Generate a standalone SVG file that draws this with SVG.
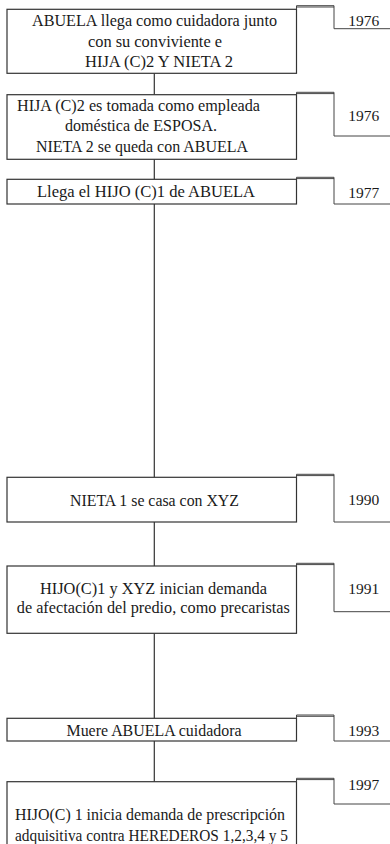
<svg xmlns="http://www.w3.org/2000/svg" width="390" height="844" viewBox="0 0 390 844">
<style>
.box{fill:#fff;stroke:#333;stroke-width:1.2}
.br{fill:none;stroke:#444;stroke-width:1}
.dbl{fill:none;stroke:#333;stroke-width:0.9}
.conn{fill:none;stroke:#333;stroke-width:1.2}
text{font-family:"Liberation Serif","Times New Roman",serif;font-size:16px;fill:#1a1a1a;text-anchor:middle}
.yr{font-size:15.5px}
</style>
<rect width="390" height="844" fill="#fff"/>
<g id="connectors">
<line class="conn" x1="154.3" y1="73.3" x2="154.3" y2="94.7"/>
<line class="conn" x1="154.3" y1="159.3" x2="154.3" y2="179.3"/>
<line class="conn" x1="154.3" y1="204" x2="154.3" y2="477.3"/>
<line class="conn" x1="154.3" y1="522" x2="154.3" y2="566"/>
<line class="conn" x1="154.3" y1="633.3" x2="154.3" y2="718.3"/>
<line class="conn" x1="154.3" y1="741" x2="154.3" y2="781.7"/>
</g>
<g id="n1">
<rect class="box" x="7" y="9.3" width="289.5" height="64"/>
<path class="br" d="M296.5 9.3V5.7H334V28.7H391"/>
<line class="dbl" x1="296.5" y1="7" x2="334" y2="7"/>
<text x="154.5" y="26" textLength="245" lengthAdjust="spacingAndGlyphs">ABUELA llega como cuidadora junto</text>
<text x="155" y="46.5" textLength="134" lengthAdjust="spacingAndGlyphs">con su conviviente e</text>
<text x="159" y="67" textLength="148" lengthAdjust="spacingAndGlyphs">HIJA (C)2 Y NIETA 2</text>
<text class="yr" x="363.7" y="26">1976</text>
</g>
<g id="n2">
<rect class="box" x="7" y="94.7" width="289.5" height="64.6"/>
<path class="br" d="M296.5 94.7V92.3H334V136H391"/>
<line class="dbl" x1="296.5" y1="93.6" x2="334" y2="93.6"/>
<text x="138.5" y="110.7" textLength="243" lengthAdjust="spacingAndGlyphs">HIJA (C)2 es tomada como empleada</text>
<text x="141" y="131.2" textLength="152" lengthAdjust="spacingAndGlyphs">doméstica de ESPOSA.</text>
<text x="142" y="151.7" textLength="212" lengthAdjust="spacingAndGlyphs">NIETA 2 se queda con ABUELA</text>
<text class="yr" x="363.7" y="120.7">1976</text>
</g>
<g id="n3">
<rect class="box" x="7" y="179.3" width="289.5" height="24.7"/>
<path class="br" d="M296.5 179.3V177.3H334V204H391"/>
<line class="dbl" x1="296.5" y1="178.6" x2="334" y2="178.6"/>
<text x="146" y="196.7" textLength="218" lengthAdjust="spacingAndGlyphs">Llega el HIJO (C)1 de ABUELA</text>
<text class="yr" x="363.7" y="198.3">1977</text>
</g>
<g id="n4">
<rect class="box" x="7" y="477.3" width="289.5" height="44.7"/>
<path class="br" d="M296.5 477.3V474.3H334V522H391"/>
<line class="dbl" x1="296.5" y1="475.6" x2="334" y2="475.6"/>
<text x="154.5" y="505.7" textLength="169" lengthAdjust="spacingAndGlyphs">NIETA 1 se casa con XYZ</text>
<text class="yr" x="363.7" y="505">1990</text>
</g>
<g id="n5">
<rect class="box" x="7" y="566" width="289.5" height="67.3"/>
<path class="br" d="M296.5 566V563.3H334V611.7H391"/>
<line class="dbl" x1="296.5" y1="564.6" x2="334" y2="564.6"/>
<text x="153.5" y="593.5" textLength="227" lengthAdjust="spacingAndGlyphs">HIJO(C)1 y XYZ inician demanda</text>
<text x="153.3" y="613" textLength="273" lengthAdjust="spacingAndGlyphs">de afectación del predio, como precaristas</text>
<text class="yr" x="363.7" y="594">1991</text>
</g>
<g id="n6">
<rect class="box" x="7" y="718.3" width="289.5" height="22.7"/>
<path class="br" d="M296.5 718.3V715H334V741H391"/>
<line class="dbl" x1="296.5" y1="716.3" x2="334" y2="716.3"/>
<text x="154" y="735.7" textLength="175" lengthAdjust="spacingAndGlyphs">Muere ABUELA cuidadora</text>
<text class="yr" x="363.7" y="735.7">1993</text>
</g>
<g id="n7">
<rect class="box" x="7" y="781.7" width="289.5" height="70"/>
<path class="br" d="M296.5 781.7V778.3H334V804H391"/>
<line class="dbl" x1="296.5" y1="779.6" x2="334" y2="779.6"/>
<text x="150" y="820" textLength="270" lengthAdjust="spacingAndGlyphs">HIJO(C) 1 inicia demanda de prescripción</text>
<text x="151.5" y="841" textLength="273" lengthAdjust="spacingAndGlyphs">adquisitiva contra HEREDEROS 1,2,3,4 y 5</text>
<text class="yr" x="363.7" y="790">1997</text>
</g>
</svg>
